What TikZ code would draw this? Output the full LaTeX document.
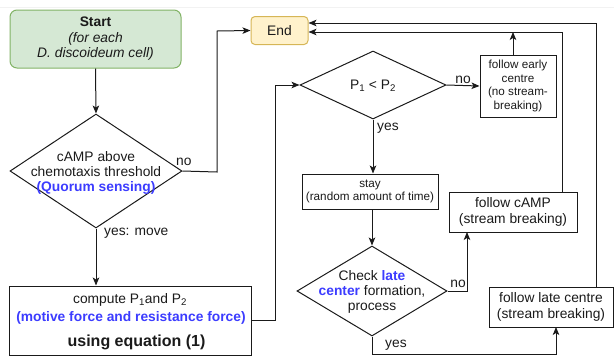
\documentclass[tikz,border=0pt]{standalone}
\usepackage{fontspec}
\setmainfont{Liberation Sans}
\usetikzlibrary{shapes.geometric,arrows.meta}
\definecolor{startfill}{HTML}{D5E8D4}
\definecolor{startline}{HTML}{82B366}
\definecolor{endfill}{HTML}{FFF2CC}
\definecolor{endline}{HTML}{D6B656}
\definecolor{hl}{RGB}{60,60,255}
\definecolor{ink}{HTML}{1A1A1A}
\newcommand{\mainsz}{\fontsize{13.8pt}{16pt}\selectfont}
\newcommand{\smallsz}{\fontsize{11.7pt}{13.4pt}\selectfont}
\newcommand{\bigsz}{\fontsize{16pt}{18pt}\selectfont}
\begin{document}
\begin{tikzpicture}[x=1pt,y=-1pt,
  every node/.style={text=ink},
  line/.style={draw=ink,line width=1pt},
  arr/.style={line,-{Stealth[length=8pt,width=6.5pt,inset=2pt]}},
  box/.style={draw=ink,line width=1pt,rectangle,inner sep=0pt,align=center},
  dia/.style={draw=ink,line width=1pt,diamond,inner sep=0pt},
  txt/.style={align=center,inner sep=0pt,font=\mainsz},
  lbl/.style={inner sep=0pt,font=\mainsz}]
\useasboundingbox (0,0) rectangle (614,357);
\draw[gray!10,line width=0.8pt] (0,7) -- (614,7);
% nodes
\node[box,rounded corners=7pt,fill=startfill,draw=startline,minimum width=171pt,minimum height=58pt] (start) at (95.5,39) {};
\node[txt] at (start) {\textbf{Start}\\[-0.5pt]\textit{(for each}\\[-0.5pt]\textit{D. discoideum cell)}};
\node[box,rounded corners=4pt,fill=endfill,draw=endline,minimum width=57pt,minimum height=28pt,font=\mainsz] (end) at (279.5,30.5) {End};
\node[dia,minimum width=172pt,minimum height=114pt] (d1) at (96,171) {};
\node[txt] at (96,172.5) {cAMP above\\[-1pt]chemotaxis threshold\\[-1pt]\textcolor{hl}{\textbf{(Quorum sensing)}}};
\node[box,minimum width=242pt,minimum height=69pt] (comp) at (130,320.5) {};
\node[txt] at (130,300) {compute P\textsubscript{1}and P\textsubscript{2}};
\node[txt,text=hl,font=\mainsz\bfseries] at (131,318) {(motive force and resistance force)};
\node[txt,font=\bigsz\bfseries] at (136.5,342) {using equation (1)};
\node[dia,minimum width=146pt,minimum height=68pt] (d2) at (373,85) {};
\node[txt] at (373,86) {P\textsubscript{1} < P\textsubscript{2}};
\node[box,minimum width=76pt,minimum height=62pt,font=\smallsz] (early) at (518,86) {follow early\\centre\\(no stream-\\breaking)};
\node[box,minimum width=136pt,minimum height=35pt,font=\smallsz] (stay) at (370,191.5) {stay\\(random amount of time)};
\node[dia,minimum width=150pt,minimum height=90pt] (d3) at (372,291) {};
\node[txt] at (372,291.5) {Check \textcolor{hl}{\textbf{late}}\\[-1pt]\textcolor{hl}{\textbf{center}} formation,\\[-1pt]process};
\node[box,minimum width=128pt,minimum height=40pt,font=\mainsz] (camp) at (513,212) {follow cAMP\\(stream breaking)};
\node[box,minimum width=124pt,minimum height=40pt,font=\mainsz] (late) at (551,307) {follow late centre\\(stream breaking)};
% helper coordinates
\coordinate (e1) at (513,55);
\coordinate (j1) at (513,32);
\coordinate (c1) at (562,192);
\coordinate (l1) at (596,287);
\coordinate (cin) at (467,232);
\coordinate (lin) at (556,327);
% connectors
\draw[arr] (start.south) -- (d1.north);
\draw[arr] (d1.east) -- (217,172) -- (217,31) -- (end.west);
\node[lbl,anchor=south west] at (176,166) {no};
\draw[arr] (d1.south) -- (d1.south |- comp.north);
\node[lbl,anchor=west] at (104,233) {yes: move};
\draw[arr] (comp.east) -- (275,320.5) -- (275,85) -- (d2.west);
\draw[arr] (d2.east) -- (early.west);
\node[lbl,anchor=south] at (463,84) {no};
\draw[arr] (e1) -- (j1);
\draw[arr] (c1) -- (562,32) -- (end.east |- j1);
\draw[arr] (l1) -- (596,23) -- (end.east |- 0,23);
\draw[arr] (d2.south) -- (d2.south |- stay.north);
\node[lbl,anchor=west] at (377,128) {yes};
\draw[arr] (stay.south -| d3.north) -- (d3.north);
\draw[arr] (d3.east) -- (467,291) -- (cin);
\node[lbl,anchor=south] at (458,288) {no};
\draw[arr] (d3.south) -- (372,354) -- (556,354) -- (lin);
\node[lbl,anchor=west] at (385,345) {yes};
\end{tikzpicture}
\end{document}
